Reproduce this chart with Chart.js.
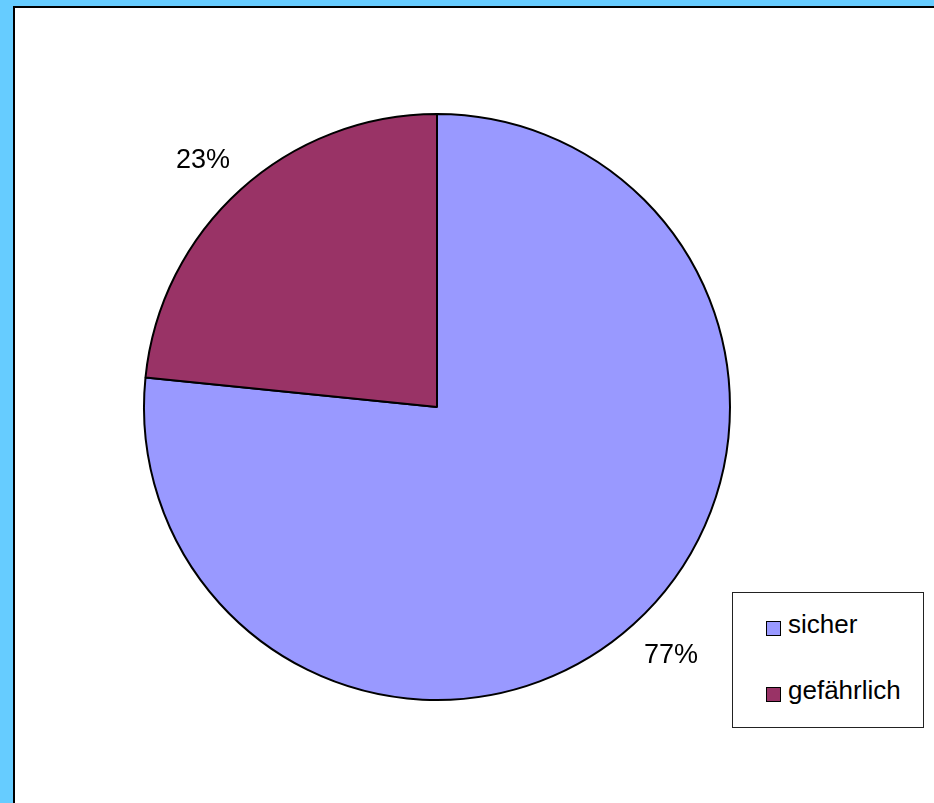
<!doctype html>
<html lang="de">
<head>
    <meta charset="utf-8">
    <title>sicher / gefährlich</title>
    <script src="https://cdn.jsdelivr.net/npm/chart.js"></script>
    <style>
        html, body { margin: 0; padding: 0; }
        body {
            width: 934px; height: 803px; overflow: hidden;
            background: #66ccff; position: relative;
            font-family: "Liberation Sans", Arial, sans-serif;
        }
        #panel {
            position: absolute; left: 13px; top: 6px; width: 940px; height: 820px;
            background: #fff; border-left: 2px solid #000; border-top: 2px solid #000;
        }
        #chart { position: absolute; left: 0; top: 0; }
        #legend {
            position: absolute; left: 732px; top: 592px; width: 190px; height: 134px;
            border: 1px solid #222; background: #fff;
        }
        .item { position: absolute; left: 33px; font-size: 26px; color: #000; white-space: nowrap; }
        .box {
            position: absolute; left: 0; width: 13px; height: 13px;
            border: 1px solid #000;
        }
    </style>
</head>
<body>
<div id="panel"></div>
<canvas id="chart" width="934" height="803"></canvas>
<div id="legend"></div>

<script>
    const labels = ["sicher", "gefährlich"];
    const values = [76.6, 23.4];
    const colors = ["#9999ff", "#993366"];

    // Prozentangaben außerhalb der Tortenstücke
    const outsideLabels = {
        id: "outsideLabels",
        afterDatasetsDraw(chart) {
            const ctx = chart.ctx;
            const meta = chart.getDatasetMeta(0);
            const total = values.reduce((a, b) => a + b, 0);
            ctx.save();
            ctx.font = "27px 'Liberation Sans', Arial, sans-serif";
            ctx.fillStyle = "#000";
            ctx.textAlign = "center";
            ctx.textBaseline = "middle";
            meta.data.forEach((arc, i) => {
                const p = arc.getProps(["x", "y", "startAngle", "endAngle", "outerRadius"], true);
                const mid = (p.startAngle + p.endAngle) / 2;
                const rx = p.outerRadius + 56;
                const ry = p.outerRadius + 41;
                const txt = Math.round(values[i] / total * 100) + "%";
                ctx.fillText(txt, p.x + Math.cos(mid) * rx, p.y + Math.sin(mid) * ry + 1);
            });
            ctx.restore();
        }
    };

    new Chart(document.getElementById("chart"), {
        type: "pie",
        data: {
            labels: labels,
            datasets: [{
                data: values,
                backgroundColor: colors,
                borderColor: "#000",
                borderWidth: 2
            }]
        },
        options: {
            responsive: false,
            animation: false,
            layout: { padding: { left: 143, top: 113, right: 203, bottom: 102 } },
            plugins: {
                legend: { display: false },
                tooltip: { enabled: false }
            }
        },
        plugins: [outsideLabels]
    });

    // Legende
    const legend = document.getElementById("legend");
    labels.forEach((name, i) => {
        const item = document.createElement("div");
        item.className = "item";
        item.style.top = (i === 0 ? 16 : 82) + "px";
        item.innerHTML = '<span class="box" style="background:' + colors[i] + ';top:12px"></span>' +
            '<span style="margin-left:22px">' + name + '</span>';
        legend.appendChild(item);
    });
</script>
</body>
</html>
